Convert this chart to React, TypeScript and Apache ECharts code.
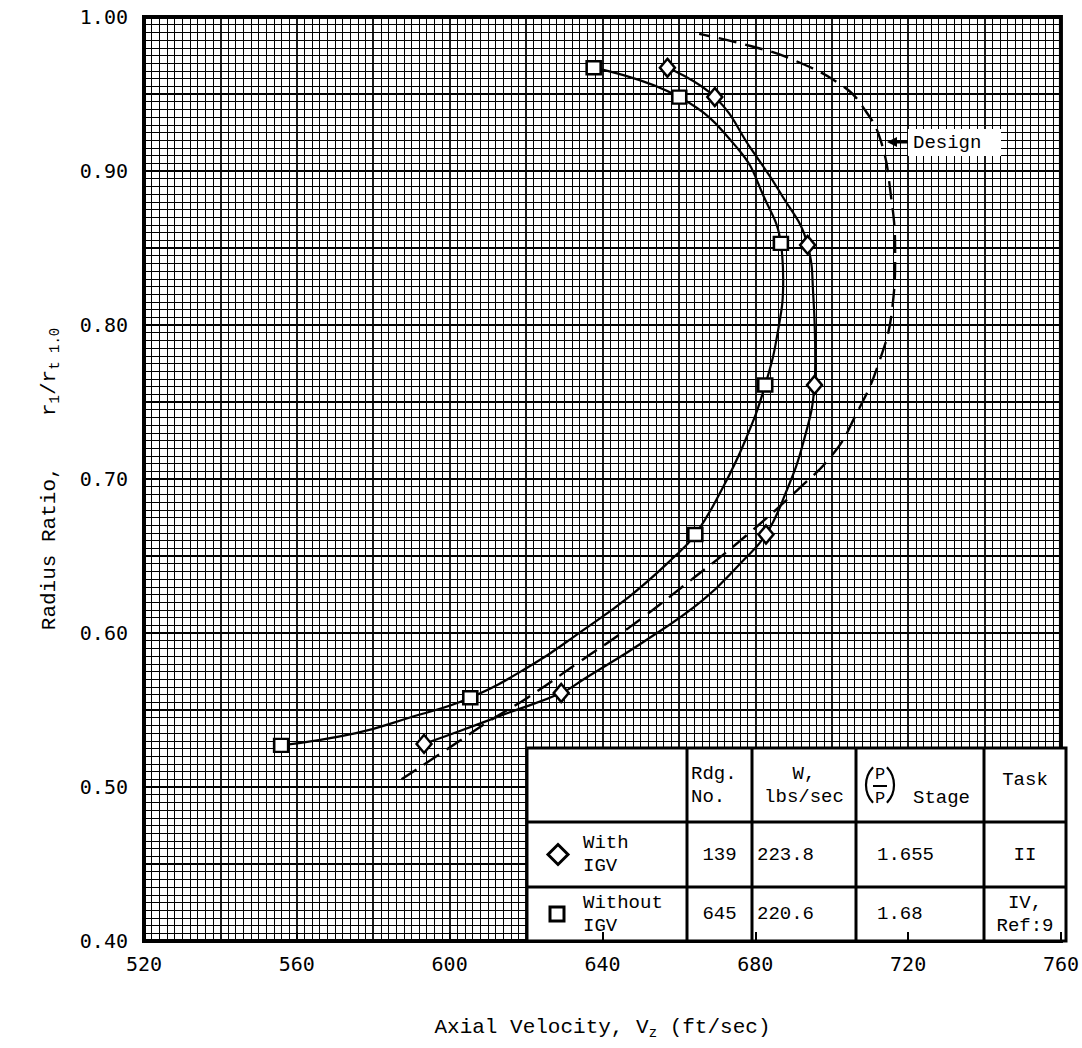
import React, { useEffect, useRef } from "react";
import * as echarts from "echarts";

// ---- data ----
const xTickLabels = [520, 560, 600, 640, 680, 720, 760];
const yTickLabels = [0.4, 0.5, 0.6, 0.7, 0.8, 0.9, 1.0];

const withIgvMarkers: [number, number][] = [
  [657.0, 0.967], [669.4, 0.948], [693.7, 0.852], [695.5, 0.761],
  [682.8, 0.664], [629.2, 0.561], [593.3, 0.528],
];
const withoutIgvMarkers: [number, number][] = [
  [637.7, 0.967], [660.1, 0.948], [686.7, 0.853], [682.6, 0.761],
  [664.3, 0.664], [605.4, 0.558], [555.9, 0.527],
];
const withIgvCurve: [number, number][] = [
  [657.0, 0.967], [669.4, 0.948], [679.0, 0.914], [686.5, 0.886], [693.7, 0.852],
  [695.2, 0.818], [695.7, 0.776], [695.5, 0.761], [692.6, 0.724], [687.8, 0.690],
  [682.8, 0.664], [676.4, 0.646], [666.1, 0.621], [650.6, 0.594], [635.1, 0.570],
  [629.2, 0.561], [615.2, 0.548], [602.3, 0.536], [593.3, 0.528],
];
const withoutIgvCurve: [number, number][] = [
  [637.7, 0.967], [660.1, 0.948], [675.6, 0.914], [682.3, 0.883], [686.7, 0.853],
  [687.3, 0.829], [686.0, 0.797], [682.6, 0.761], [677.2, 0.724], [671.2, 0.693],
  [664.3, 0.664], [658.6, 0.649], [647.2, 0.624], [633.3, 0.599], [622.0, 0.580],
  [605.4, 0.558], [589.4, 0.545], [575.5, 0.535], [555.9, 0.527],
];
const designCurve: [number, number][] = [
  [587.4, 0.505], [599.0, 0.524], [611.1, 0.544], [620.4, 0.558], [633.8, 0.581],
  [646.7, 0.603], [664.0, 0.636], [675.6, 0.659], [691.1, 0.693], [700.6, 0.717],
  [706.0, 0.740], [712.0, 0.773], [715.9, 0.812], [716.6, 0.847], [715.4, 0.886],
  [712.8, 0.920], [708.6, 0.940], [703.0, 0.955], [690.1, 0.972], [679.0, 0.981],
  [665.3, 0.989],
];

const tableHeader = ["", "Rdg.\nNo.", "W,\nlbs/sec", "P", "Task"];
const stageLabel = "Stage";
const tableRowLabels = ["With\nIGV", "Without\nIGV"];
const tableRdg = ["139", "645"];
const tableW = ["223.8", "220.6"];
const tablePR = ["1.655", "1.68"];
const tableTask = ["II", "IV,\nRef:9"];

const MONO = '"Liberation Mono", "Courier New", monospace';
const TICKFONT = '"DejaVu Sans Mono", monospace';

function buildTable(): any[] {
  const colX = [527, 687, 752, 856, 984, 1066];
  const rowY = [748, 822, 887, 941];
  const els: any[] = [];
  const z = 50;
  els.push({
    type: "rect", z,
    shape: { x: colX[0], y: rowY[0], width: colX[5] - colX[0], height: rowY[3] - rowY[0] },
    style: { fill: "#fff", stroke: "#000", lineWidth: 3 },
  });
  for (let i = 1; i < 5; i++) {
    els.push({ type: "line", z: z + 1, shape: { x1: colX[i], y1: rowY[0], x2: colX[i], y2: rowY[3] }, style: { stroke: "#000", lineWidth: 3 } });
  }
  for (let j = 1; j < 3; j++) {
    els.push({ type: "line", z: z + 1, shape: { x1: colX[0], y1: rowY[j], x2: colX[5], y2: rowY[j] }, style: { stroke: "#000", lineWidth: 3 } });
  }
  const txt = (text: string, x: number, y: number, align: string, size = 19) => ({
    type: "text", z: z + 2,
    style: { text, x, y, align, verticalAlign: "middle", fontSize: size, fontFamily: MONO, fill: "#000", lineHeight: 23 },
  });
  const hy = (rowY[0] + rowY[1]) / 2;
  els.push(txt(tableHeader[1], colX[1] + 4, hy, "left"));
  els.push(txt(tableHeader[2], (colX[2] + colX[3]) / 2, hy, "center"));
  els.push(txt(tableHeader[4], (colX[4] + colX[5]) / 2, hy - 5, "center"));
  // (P/P) Stage header: parentheses drawn as arcs
  const pcx = colX[3] + 24;
  els.push({ type: "arc", z: z + 2, shape: { cx: pcx + 12, cy: hy, r: 26, startAngle: Math.PI * 0.76, endAngle: Math.PI * 1.24 }, style: { stroke: "#000", lineWidth: 2.2, fill: "none" } });
  els.push({ type: "arc", z: z + 2, shape: { cx: pcx - 12, cy: hy, r: 26, startAngle: -Math.PI * 0.24, endAngle: Math.PI * 0.24 }, style: { stroke: "#000", lineWidth: 2.2, fill: "none" } });
  els.push(txt(tableHeader[3], pcx, hy - 11, "center", 17));
  els.push({ type: "line", z: z + 2, shape: { x1: pcx - 7, y1: hy + 1, x2: pcx + 7, y2: hy + 1 }, style: { stroke: "#000", lineWidth: 2 } });
  els.push(txt(tableHeader[3], pcx, hy + 13, "center", 17));
  els.push(txt(stageLabel, colX[3] + 57, hy + 13, "left"));
  for (let r = 0; r < 2; r++) {
    const cy = (rowY[r + 1] + rowY[r + 2]) / 2;
    if (r === 0) {
      els.push({ type: "polygon", z: z + 2, shape: { points: [[558, cy - 10], [568, cy], [558, cy + 10], [548, cy]] }, style: { fill: "#fff", stroke: "#000", lineWidth: 3 } });
    } else {
      els.push({ type: "rect", z: z + 2, shape: { x: 550, y: cy - 7, width: 14, height: 14 }, style: { fill: "#fff", stroke: "#000", lineWidth: 3 } });
    }
    els.push(txt(tableRowLabels[r], 583, cy, "left"));
    els.push(txt(tableRdg[r], (colX[1] + colX[2]) / 2, cy, "center"));
    els.push(txt(tableW[r], colX[2] + 5, cy, "left"));
    els.push(txt(tablePR[r], colX[3] + 21, cy, "left"));
    els.push(txt(tableTask[r], (colX[4] + colX[5]) / 2, cy, "center"));
  }
  return els;
}

function buildDesignLabel(): any[] {
  const z = 50;
  return [
    { type: "rect", z, shape: { x: 908, y: 129, width: 93, height: 27 }, style: { fill: "#fff" } },
    { type: "text", z: z + 1, style: { text: "Design", x: 913, y: 143, align: "left", verticalAlign: "middle", fontSize: 19, fontFamily: MONO, fill: "#000" } },
    { type: "line", z: z + 1, shape: { x1: 893, y1: 142, x2: 908, y2: 142 }, style: { stroke: "#000", lineWidth: 3 } },
    { type: "polygon", z: z + 1, shape: { points: [[887, 142], [897, 137], [897, 147]] }, style: { fill: "#000" } },
  ];
}

export default function App() {
  const ref = useRef<HTMLDivElement>(null);
  useEffect(() => {
    document.body.style.margin = "0";
    const chart = echarts.init(ref.current!, undefined, { renderer: "svg" });
    const lineStyle = { color: "#000", width: 2.2 };
    const nameStyle = {
      fontFamily: MONO, fontSize: 21, color: "#000",
      rich: { s: { fontFamily: MONO, fontSize: 14, color: "#000", padding: [11, 0, 0, 0] } },
    };
    const option: any = {
      animation: false,
      backgroundColor: "#fff",
      grid: { left: 144, right: 8, top: 17, bottom: 107, show: true, borderColor: "#000", borderWidth: 4, backgroundColor: "transparent" },
      xAxis: [
        {
          type: "value", min: 520, max: 760, interval: 20, position: "bottom",
          name: "Axial Velocity, V{s|z} (ft/sec)", nameLocation: "middle", nameGap: 74,
          nameTextStyle: nameStyle,
          axisLine: { show: true, lineStyle: { color: "#000", width: 4 } },
          axisTick: { show: false },
          axisLabel: {
            margin: 13, color: "#000", fontFamily: TICKFONT, fontSize: 20,
            formatter: (v: number) => (xTickLabels.includes(v) ? String(v) : ""),
          },
          splitLine: { show: true, lineStyle: { color: "#000", width: 1.8 } },
          minorTick: { show: false, splitNumber: 10 },
          minorSplitLine: { show: true, lineStyle: { color: "#000", width: 1 } },
        },
        {
          type: "value", min: 520, max: 760, interval: 40, position: "bottom", z: 60,
          axisLine: { show: false },
          axisTick: { show: true, inside: true, length: 9, lineStyle: { color: "#000", width: 2 } },
          axisLabel: { show: false },
          splitLine: { show: false },
        },
      ],
      yAxis: {
        type: "value", min: 0.4, max: 1.0, interval: 0.05,
        name: "Radius Ratio,    r{s|1}/r{s|t 1.0}", nameLocation: "middle", nameGap: 82,
        nameTextStyle: nameStyle,
        axisLine: { show: true, lineStyle: { color: "#000", width: 4 } },
        axisTick: { show: false },
        axisLabel: {
          margin: 16, color: "#000", fontFamily: TICKFONT, fontSize: 20,
          formatter: (v: number) => (yTickLabels.some((t) => Math.abs(t - v) < 1e-6) ? v.toFixed(2) : ""),
        },
        splitLine: { show: true, lineStyle: { color: "#000", width: 1.8 } },
        minorTick: { show: false, splitNumber: 10 },
        minorSplitLine: { show: true, lineStyle: { color: "#000", width: 1 } },
      },
      series: [
        { name: "With IGV curve", type: "line", data: withIgvCurve, smooth: 0.45, showSymbol: false, lineStyle, z: 5 },
        { name: "Without IGV curve", type: "line", data: withoutIgvCurve, smooth: 0.45, showSymbol: false, lineStyle, z: 5 },
        { name: "Design", type: "line", data: designCurve, smooth: 0.45, showSymbol: false, lineStyle: { color: "#000", width: 2.4, type: [18, 9] }, z: 5 },
        {
          name: "With IGV", type: "scatter", data: withIgvMarkers, symbol: "diamond", symbolSize: [15, 18], z: 6,
          itemStyle: { color: "#fff", borderColor: "#000", borderWidth: 2.5, opacity: 1 },
        },
        {
          name: "Without IGV", type: "scatter", data: withoutIgvMarkers, symbol: "rect", symbolSize: [14, 13], z: 6,
          itemStyle: { color: "#fff", borderColor: "#000", borderWidth: 2.5, opacity: 1 },
        },
      ],
      graphic: [...buildTable(), ...buildDesignLabel()],
    };
    chart.setOption(option);
    return () => chart.dispose();
  }, []);
  return <div ref={ref} style={{ width: 1082, height: 1048 }} />;
}
